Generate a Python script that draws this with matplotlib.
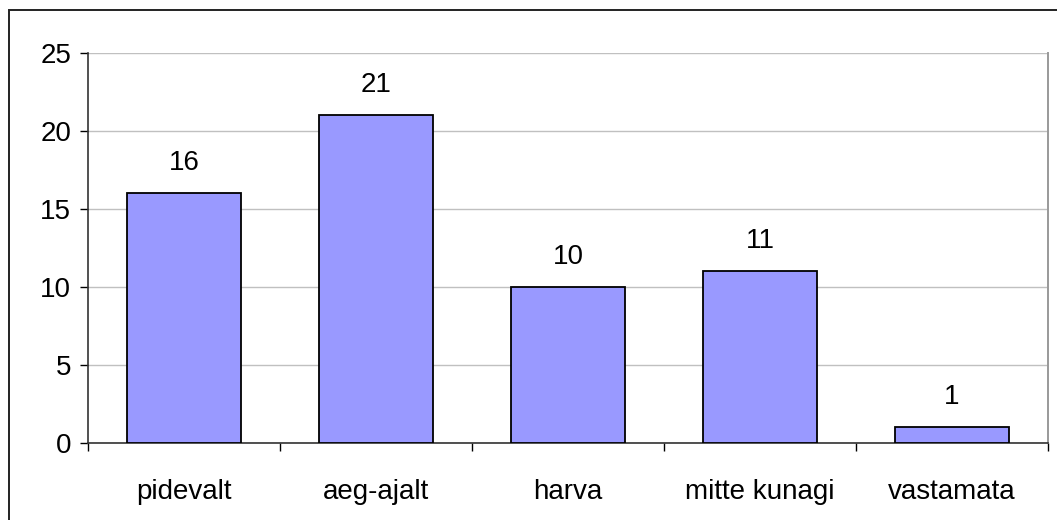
import matplotlib.pyplot as plt
from matplotlib.patches import Rectangle

categories = ['pidevalt', 'aeg-ajalt', 'harva', 'mitte kunagi', 'vastamata']
values = [16, 21, 10, 11, 1]

plt.rcParams['font.family'] = ['Liberation Sans', 'DejaVu Sans']
FS = 20

fig = plt.figure(figsize=(10.57, 5.2), dpi=100)
W, H = 1057, 520
ax = fig.add_axes([88 / W, 1 - 443 / H, (1048 - 88) / W, (443 - 53) / H])

# outer chart frame: top edge at y=10px, runs off the right and bottom edges
fig.patches.append(Rectangle((9 / W, -20 / H), (1100 - 9) / W, (H - 10 + 20) / H,
                             transform=fig.transFigure, fill=False,
                             edgecolor='#222222', linewidth=1.4))

x = list(range(len(categories)))
ax.bar(x, values, width=0.59, color='#9999ff', edgecolor='black',
       linewidth=1.3, zorder=3)
for xi, v in zip(x, values):
    ax.text(xi, v + 1.1, str(v), ha='center', va='bottom', fontsize=FS)

ax.set_xlim(-0.5, len(categories) - 0.5)
ax.set_ylim(0, 25)
ax.set_yticks(range(0, 26, 5))
ax.tick_params(axis='y', labelsize=FS, length=6, direction='out', width=1, pad=6)
ax.yaxis.grid(True, color='#c0c0c0', linewidth=1, zorder=0)

ax.set_xticks(x)
ax.set_xticklabels(categories, fontsize=FS)
ax.tick_params(axis='x', length=0, pad=26)
# category separators below the axis
ax.set_xticks([i - 0.5 for i in range(len(categories) + 1)], minor=True)
ax.tick_params(axis='x', which='minor', length=6, width=1, direction='out')

ax.spines['top'].set_visible(False)
ax.spines['right'].set_color('#999999')
ax.spines['right'].set_linewidth(1.4)
ax.spines['left'].set_color('#333333')
ax.spines['left'].set_linewidth(1.2)
ax.spines['bottom'].set_color('#333333')
ax.spines['bottom'].set_linewidth(1.2)

fig.savefig('out.png', dpi=100)
